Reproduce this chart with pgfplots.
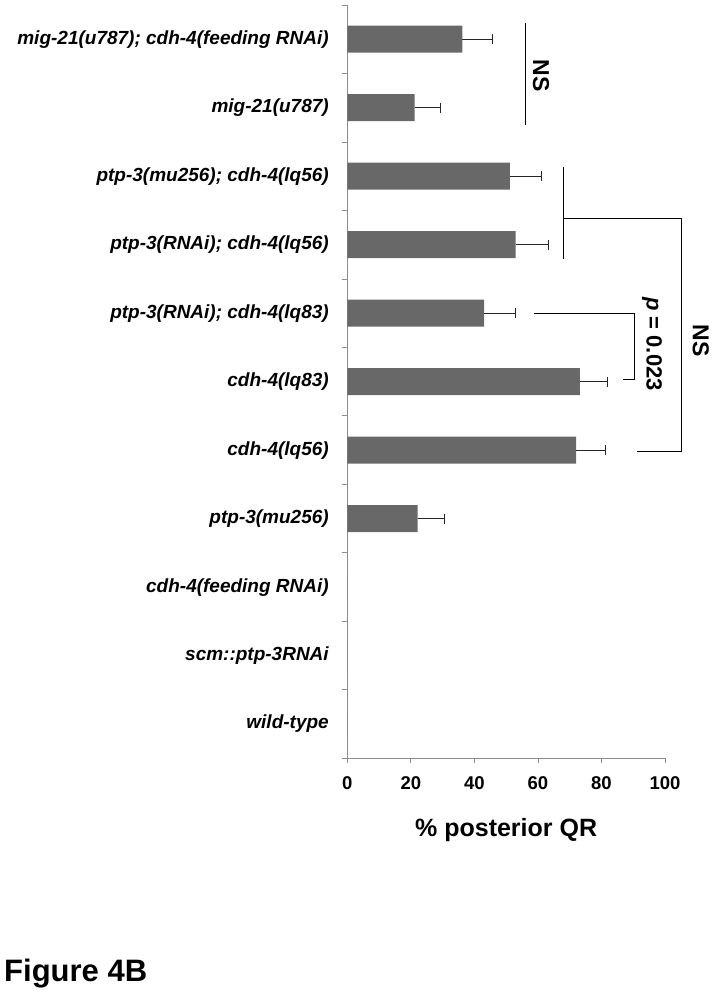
\documentclass[border=0pt]{standalone}
\usepackage{fontspec}
\setmainfont{Liberation Sans}
\usepackage{pgfplots}
\pgfplotsset{compat=1.18}
\definecolor{barc}{RGB}{104,104,104}
\definecolor{axc}{RGB}{140,140,140}
\begin{document}
\begin{tikzpicture}[x=1pt,y=1pt]
\path[use as bounding box] (-347.3,-234.7) rectangle (365.7,758.3);
\begin{axis}[
    at={(0,0)}, anchor=south west,
    scale only axis, width=317.7pt, height=753.3pt,
    xbar, bar width=27pt, bar shift=0pt,
    xmin=0, xmax=100, ymin=-0.5, ymax=10.5,
    clip=false,
    axis x line*=bottom, axis y line*=left,
    axis line style={-, draw=axc, line width=0.8pt},
    tick align=outside, major tick length=5pt,
    tick style={draw=axc, line width=0.8pt},
    xtick={0,20,...,100},
    xticklabel style={font=\bfseries\fontsize{18.5}{18.5}\selectfont, yshift=-10pt},
    /pgf/number format/assume math mode=true,
    ytick={-0.5,0.5,...,10.5}, yticklabels={},
    extra y ticks={0,1,2,3,4,5,6,7,8,9,10},
    extra y tick labels={{wild-type},{scm::ptp-3RNAi},{cdh-4(feeding RNAi)},{ptp-3(mu256)},{cdh-4(lq56)},{cdh-4(lq83)},{ptp-3(RNAi); cdh-4(lq83)},{ptp-3(RNAi); cdh-4(lq56)},{ptp-3(mu256); cdh-4(lq56)},{mig-21(u787)},{mig-21(u787); cdh-4(feeding RNAi)}},
    extra y tick style={major tick length=0pt,
        yticklabel style={font=\bfseries\itshape\fontsize{19}{19}\selectfont, xshift=-15pt}},
    xlabel={\% posterior QR},
    xlabel style={at={(axis description cs:0.5,0)}, anchor=north, inner sep=0pt,
        yshift=-60pt, font=\bfseries\fontsize{25}{25}\selectfont},
]
\addplot[fill=barc, draw=none,
    error bars/.cd, x dir=plus, x explicit,
    error mark=|,
    error bar style={black!85, line width=0.8pt},
    error mark options={black!85, line width=0.8pt, mark size=5pt}]
    coordinates {
    (22.1,3) +- (8.4,0)
    (72.0,4) +- (9.1,0)
    (73.2,5) +- (8.7,0)
    (43.1,6) +- (9.7,0)
    (53.0,7) +- (10.2,0)
    (51.2,8) +- (9.9,0)
    (21.2,9) +- (8.0,0)
    (36.2,10) +- (9.5,0)
};
\addplot[fill=barc, draw=none] coordinates {(0,0) (0,1) (0,2)};

\draw[black, line width=0.8pt] (axis cs:56.1,10.24) -- (axis cs:56.1,8.75);
\node[rotate=-90, inner sep=0pt, font=\bfseries\fontsize{23}{23}\selectfont] at (axis cs:61.0,9.467) {NS};
\draw[black, line width=0.8pt] (axis cs:67.9,8.14) -- (axis cs:67.9,6.79);
\draw[black, line width=0.8pt] (axis cs:67.9,7.38) -- (axis cs:105.3,7.38) -- (axis cs:105.3,3.975) -- (axis cs:91.2,3.975);
\node[rotate=-90, inner sep=0pt, font=\bfseries\fontsize{23}{23}\selectfont] at (axis cs:111.3,5.60) {NS};
\draw[black, line width=0.8pt] (axis cs:58.7,6.0) -- (axis cs:90.5,6.0) -- (axis cs:90.5,5.03) -- (axis cs:86.8,5.03);
\node[rotate=-90, inner sep=0pt, font=\bfseries\fontsize{22}{22}\selectfont] at (axis cs:95.9,5.55) {\textit{p} = 0.023};
\end{axis}
\node[anchor=base west, inner sep=0pt, font=\bfseries\fontsize{31}{31}\selectfont] at (-343.3,-223.4) {Figure 4B};
\end{tikzpicture}
\end{document}
